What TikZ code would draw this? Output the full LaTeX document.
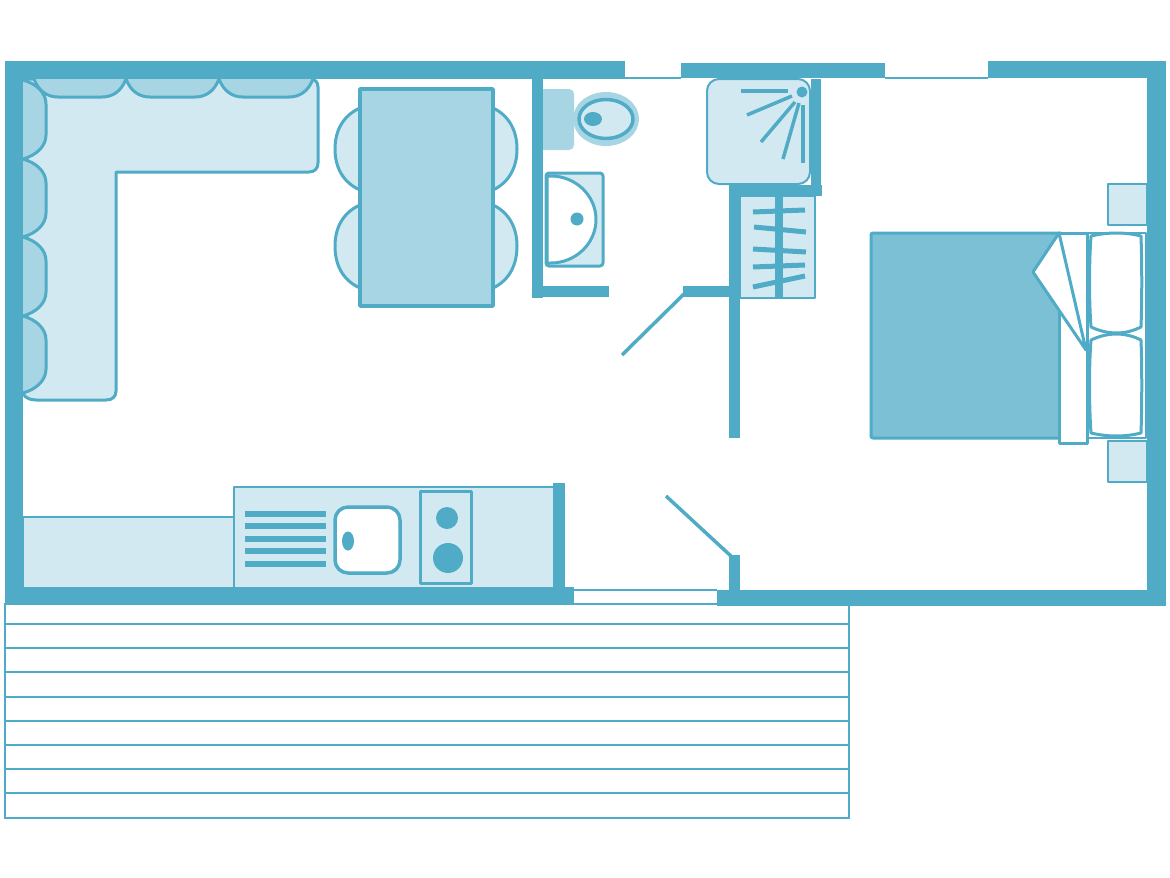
\documentclass[tikz,border=0pt]{standalone}
\usetikzlibrary{calc}
\definecolor{wallblue}{HTML}{4FABC6}
\definecolor{lightblue}{HTML}{D3E9F1}
\definecolor{midblue}{HTML}{A8D5E3}
\definecolor{bedblue}{HTML}{7CC0D5}
\tikzset{
    wall/.style = {fill = wallblue, draw = none},
    outline/.style = {draw = wallblue, line width = 3pt, line join = round},
    thinline/.style = {draw = wallblue, line width = 2pt},
    furniture/.style = {outline, fill = lightblue},
    cushion/.style = {outline, fill = midblue},
    bar/.style = {draw = wallblue, line width = 5pt},
    ray/.style = {draw = wallblue, line width = 3.5pt},
    door/.style = {draw = wallblue, line width = 3.5pt}
}
\begin{document}
\begin{tikzpicture}[x = 1pt, y = -1pt]
    \useasboundingbox (0, 0) rectangle (1170, 878);

    % Terrace
    \draw [thinline] (5, 604) rectangle (849, 818);
    \foreach \ypos in {624, 648, 672, 697, 721, 745, 769, 793}
        \draw [thinline] (5, \ypos) -- (849, \ypos);

    % Corner sofa
    \draw [furniture] (23, 79) -- (310, 79) .. controls (315, 79) and (318, 82) .. (318, 87) -- (318, 163)
        .. controls (318, 168) and (315, 172) .. (309, 172) -- (116, 172) -- (116, 391)
        .. controls (116, 397) and (112, 400) .. (106, 400) -- (36, 400) .. controls (30, 400) and (26, 398) .. (23, 394) -- cycle;
    \foreach \xa/\xb in {34/126, 126/219, 219/313}
        \draw [cushion] (\xa, 79) .. controls (\xa + 5, 92) and (\xa + 14, 97) .. (\xa + 24, 97)
            -- (\xb - 24, 97) .. controls (\xb - 14, 97) and (\xb - 5, 92) .. (\xb, 79);
    \foreach \ya/\yb in {80/159, 159/237, 237/316, 316/393}
        \draw [cushion] (23, \ya) .. controls (37, \ya + 4) and (46, \ya + 13) .. (46, \ya + 24)
            -- (46, \yb - 24) .. controls (46, \yb - 13) and (37, \yb - 4) .. (23, \yb);

    % Dining table and chairs
    \foreach \ya/\yb in {108/190, 205/288} {
        \draw [furniture] (360, \ya) .. controls (342, \ya + 8) and (335, \ya + 24) .. (335, \ya + 41)
            .. controls (335, \yb - 24) and (342, \yb - 8) .. (360, \yb);
        \draw [furniture] (493, \ya) .. controls (510, \ya + 8) and (517, \ya + 24) .. (517, \ya + 41)
            .. controls (517, \yb - 24) and (510, \yb - 8) .. (493, \yb);
    }
    \draw [outline, line width = 3.5pt, fill = midblue] (360, 89) rectangle (493, 306);

    % Toilet
    \fill [midblue, rounded corners = 5pt] (538, 89) rectangle (574, 150);
    \fill [midblue] (606, 119) ellipse [x radius = 33, y radius = 27];
    \draw [outline, line width = 3.5pt, fill = lightblue] (606, 119) ellipse [x radius = 27, y radius = 19.5];
    \fill [wallblue] (593, 119) ellipse [x radius = 9, y radius = 7];

    % Washbasin
    \draw [outline, fill = lightblue, rounded corners = 3pt] (546, 173) rectangle (603, 266);
    \draw [outline, fill = white] (547, 176) -- (551, 176)
        .. controls (575, 176) and (596, 195) .. (596, 219.5)
        .. controls (596, 244) and (575, 263) .. (551, 263) -- (547, 263) -- cycle;
    \fill [wallblue] (577, 219) circle [radius = 6.5];

    % Shower
    \draw [furniture, line width = 2pt, rounded corners = 12pt] (707, 79) rectangle (810, 184);
    \fill [wallblue] (802, 92) circle [radius = 5.5];
    \draw [ray] (741, 91) -- (788, 91);
    \draw [ray] (747, 115) -- (792, 96);
    \draw [ray] (761, 142) -- (795, 102);
    \draw [ray] (783, 159) -- (799, 103);
    \draw [ray] (803, 163) -- (803, 105);

    % Wardrobe
    \draw [furniture, line width = 2.5pt] (740, 196) rectangle (815, 298);
    \fill [wallblue] (775, 196) rectangle (783, 298);
    \draw [bar] (753, 212) -- (805, 210);
    \draw [bar] (754, 227) -- (806, 232);
    \draw [bar] (753, 249) -- (806, 252);
    \draw [bar] (753, 267) -- (805, 265);
    \draw [bar] (753, 287) -- (805, 276);

    % Kitchen
    \draw [furniture, line width = 2.5pt] (23, 517) rectangle (234, 588);
    \draw [furniture, line width = 2.5pt] (234, 487) rectangle (555, 588);
    \foreach \ypos in {514, 526, 539, 551, 564}
        \fill [wallblue] (245, \ypos - 2.8) rectangle (326, \ypos + 2.8);
    \draw [outline, line width = 3.5pt, fill = white, rounded corners = 13pt] (335, 507) rectangle (400, 573);
    \fill [wallblue] (348, 541) ellipse [x radius = 6, y radius = 9.5];
    \draw [outline] (420, 491) rectangle (471, 583);
    \fill [wallblue] (447, 518) circle [radius = 11];
    \fill [wallblue] (448, 558) circle [radius = 15];

    % Bedside tables
    \draw [furniture, line width = 2pt] (1108, 184) rectangle (1147, 225);
    \draw [furniture, line width = 2pt] (1108, 441) rectangle (1147, 482);

    % Bed
    \draw [outline, fill = bedblue, rounded corners = 2pt] (871, 233) rectangle (1062, 438);
    \draw [outline, fill = white] (1059, 233) rectangle (1087, 443);
    \draw [outline, fill = white] (1059, 233) -- (1033, 272) -- (1086, 350) -- cycle;
    \draw [outline, line width = 2pt] (1087, 233) rectangle (1146, 438);

    % Pillows, pinched at the corners
    \draw [outline, fill = white] (1091, 236) .. controls (1108, 232) and (1125, 232) .. (1141, 236)
        .. controls (1142, 265) and (1142, 300) .. (1141, 327)
        .. controls (1125, 335) and (1108, 335) .. (1091, 327)
        .. controls (1089, 300) and (1089, 265) .. (1091, 236) -- cycle;
    \draw [outline, fill = white] (1091, 340) .. controls (1108, 332) and (1125, 332) .. (1141, 340)
        .. controls (1142, 365) and (1142, 405) .. (1141, 433)
        .. controls (1125, 437) and (1108, 437) .. (1091, 433)
        .. controls (1089, 405) and (1089, 365) .. (1091, 340) -- cycle;

    % Doors
    \draw [door] (686, 292) -- (622, 355);
    \draw [door] (666, 496) -- (732, 557);

    % Thin lines in the openings
    \draw [thinline] (625, 78) -- (681, 78);
    \draw [thinline] (885, 78) -- (988, 78);
    \draw [thinline] (574, 590) -- (717, 590);
    \draw [thinline] (574, 604) -- (717, 604);

    % Outer walls
    \fill [wall] (5, 61) rectangle (625, 79);
    \fill [wall] (681, 63) rectangle (885, 78);
    \fill [wall] (988, 61) rectangle (1166, 78);
    \fill [wall] (5, 61) rectangle (23, 604);
    \fill [wall] (1147, 61) rectangle (1166, 606);
    \fill [wall] (5, 587) rectangle (574, 604);
    \fill [wall] (717, 590) rectangle (1166, 606);

    % Inner walls
    \fill [wall] (532, 79) rectangle (543, 298);
    \fill [wall] (532, 286) rectangle (609, 297);
    \fill [wall] (683, 286) rectangle (729, 297);
    \fill [wall] (729, 185) rectangle (740, 438);
    \fill [wall] (729, 185) rectangle (822, 196);
    \fill [wall] (811, 79) rectangle (821, 196);
    \fill [wall] (553, 483) rectangle (565, 588);
    \fill [wall] (729, 555) rectangle (740, 590);
\end{tikzpicture}
\end{document}
